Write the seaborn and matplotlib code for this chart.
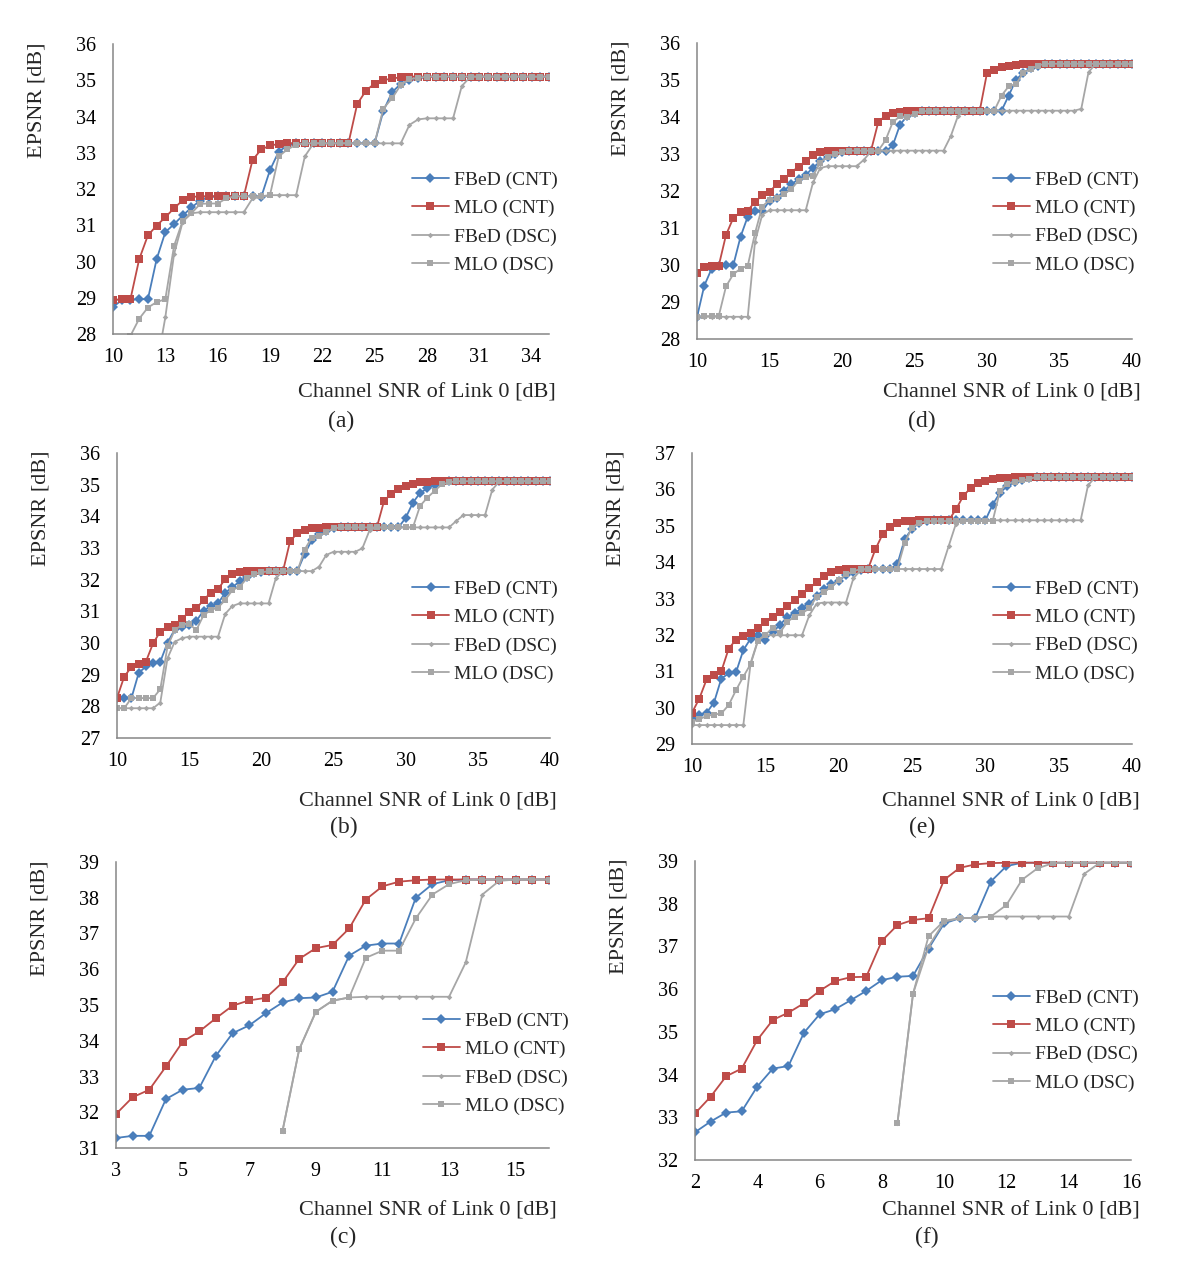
import numpy as np
import matplotlib
matplotlib.use("Agg")
import matplotlib.pyplot as plt
import seaborn as sns

sns.set_style("white")
plt.rcParams['font.family'] = ['Liberation Serif', 'DejaVu Serif']

W, H = 1200, 1281

# ---- data (EPSNR [dB] vs channel SNR of link 0 [dB]) ----
series_names = ["FBeD (CNT)", "MLO (CNT)", "FBeD (DSC)", "MLO (DSC)"]

# (a)
a_x = np.arange(10, 35.01, 0.5)
a_fbed_cnt = [28.75, 28.93, 28.95, 28.96, 28.96, 30.06, 30.81, 31.03, 31.27, 31.49, 31.68, 31.78,
              31.8, 31.8, 31.8, 31.8, 31.8, 31.78, 32.52, 33.03, 33.2, 33.26] + [33.26] * 9 + \
             [34.15, 34.67, 34.9, 35.0, 35.05] + [35.1] * 15
a_mlo_cnt = [28.94, 28.96, 28.96, 30.06, 30.72, 30.99, 31.22, 31.47, 31.69, 31.78, 31.8, 31.8,
             31.8, 31.8, 31.8, 31.8, 32.8, 33.09, 33.2, 33.24, 33.26] + [33.26] * 7 + \
            [34.34, 34.71, 34.91, 35.0, 35.05, 35.08] + [35.1] * 17
a_fbed_dsc = [26.9, 26.95, 27.0, 27.0, 27.05, 27.1, 28.46, 30.2, 31.1, 31.33, 31.36] + [31.36] * 5 + \
             [31.74, 31.78, 31.83, 31.83, 31.83, 31.83, 32.9, 33.26] + [33.26] * 10 + \
             [33.77, 33.92, 33.95, 33.95, 33.95, 33.95, 34.84, 35.1] + [35.1] * 9
a_mlo_dsc = [27.0, 27.4, 27.95, 28.42, 28.73, 28.88, 28.96, 30.43, 31.13, 31.33, 31.59, 31.6, 31.6,
             31.74, 31.8, 31.8, 31.8, 31.8, 31.83, 32.9, 33.09, 33.22, 33.26] + [33.26] * 8 + \
            [34.22, 34.5, 34.87, 35.03, 35.07] + [35.1] * 15

# (d)
d_x = np.arange(10, 40.01, 0.5)
d_fbed_cnt = [28.59, 29.44, 29.89, 29.96, 29.99, 29.99, 30.76, 31.31, 31.45, 31.45, 31.74, 31.8,
              32.01, 32.18, 32.32, 32.43, 32.63, 32.8, 32.92, 33.01, 33.06] + [33.09] * 5 + \
             [33.07, 33.23, 33.79, 34.03, 34.12] + [34.17] * 12 + \
             [34.58, 35.01, 35.19, 35.32, 35.39] + [35.44] * 13
d_mlo_cnt = [29.78, 29.94, 29.96, 29.98, 30.81, 31.27, 31.43, 31.47, 31.71, 31.88, 31.98, 32.18,
             32.32, 32.5, 32.66, 32.81, 32.98, 33.06, 33.08] + [33.09] * 6 + \
            [33.86, 34.04, 34.11, 34.14, 34.16] + [34.17] * 10 + \
            [35.19, 35.28, 35.35, 35.39, 35.4, 35.42] + [35.44] * 15
d_fbed_dsc = [28.6] * 8 + [30.63, 31.36, 31.48] + [31.48] * 5 + [32.23, 32.62, 32.67] + [32.67] * 4 + \
             [32.84, 33.07] + [33.09] * 10 + [33.48, 34.03] + [34.17] * 16 + [34.22, 35.21] + [35.44] * 6
d_mlo_dsc = [28.59, 28.62, 28.62, 28.62, 29.42, 29.75, 29.9, 29.98, 30.86, 31.58, 31.76, 31.8,
             31.92, 32.05, 32.28, 32.37, 32.41, 32.77, 32.92, 33.01, 33.05] + [33.09] * 5 + \
            [33.37, 33.86, 34.02, 34.0, 34.09, 34.15] + [34.17] * 10 + \
            [34.58, 34.83, 34.89, 35.19, 35.3, 35.39] + [35.44] * 13

# (b)
b_x = np.arange(10, 40.01, 0.5)
b_fbed_cnt = [28.26, 28.26, 28.26, 29.05, 29.26, 29.38, 29.41, 30.01, 30.43, 30.52, 30.57, 30.7,
              31.02, 31.17, 31.25, 31.59, 31.76, 31.95, 32.09, 32.2, 32.25] + [32.27] * 5 + \
             [32.81, 33.25, 33.44, 33.54, 33.62] + [33.65] * 9 + \
             [33.95, 34.43, 34.74, 34.88, 34.98, 35.09] + [35.11] * 15
b_mlo_cnt = [28.26, 28.94, 29.24, 29.34, 29.41, 29.99, 30.36, 30.52, 30.57, 30.76, 30.99, 31.09,
             31.36, 31.59, 31.7, 32.02, 32.17, 32.23, 32.26] + [32.27] * 5 + \
            [33.23, 33.46, 33.58, 33.62, 33.64] + [33.65] * 8 + \
            [34.48, 34.72, 34.87, 34.97, 35.03, 35.07, 35.09] + [35.11] * 17
b_fbed_dsc = [27.94] * 6 + [28.12, 29.52, 30.04, 30.15, 30.2] + [30.2] * 4 + [30.92, 31.17, 31.25] + \
             [31.25] * 4 + [32.04, 32.27] + [32.27] * 4 + [32.41, 32.78, 32.88] + [32.88] * 3 + \
             [32.99, 33.56, 33.65] + [33.65] * 10 + [33.85, 34.04] + [34.04] * 3 + [34.84, 35.11] + [35.11] * 7
b_mlo_dsc = [27.94, 27.94, 28.26, 28.26, 28.26, 28.26, 28.54, 29.89, 30.41, 30.57, 30.6, 30.41,
             30.88, 31.04, 31.12, 31.36, 31.67, 31.78, 32.04, 32.18, 32.23] + [32.27] * 5 + \
            [32.95, 33.33, 33.37, 33.51, 33.62] + [33.65] * 11 + \
            [34.33, 34.59, 34.8, 35.01, 35.07] + [35.11] * 14

# (e)
e_x = np.arange(10, 40.01, 0.5)
e_fbed_cnt = [29.7, 29.8, 29.86, 30.14, 30.8, 30.94, 30.97, 31.58, 31.9, 31.99, 31.87, 32.08,
              32.27, 32.5, 32.59, 32.75, 32.86, 33.06, 33.25, 33.39, 33.49, 33.64, 33.73, 33.78] + \
             [33.81] * 4 + [33.94, 34.63, 34.92, 35.08, 35.12] + [35.15] * 8 + \
             [35.58, 35.91, 36.09, 36.2, 36.27, 36.3] + [36.34] * 14
e_mlo_cnt = [29.86, 30.25, 30.78, 30.91, 31.0, 31.62, 31.87, 31.97, 32.04, 32.2, 32.35, 32.5,
             32.62, 32.8, 32.95, 33.11, 33.29, 33.44, 33.61, 33.73, 33.78, 33.8] + [33.81] * 3 + \
            [34.35, 34.77, 34.97, 35.08, 35.12, 35.13] + [35.15] * 5 + \
            [35.45, 35.82, 36.04, 36.18, 36.23, 36.28, 36.3, 36.32] + [36.34] * 17
e_fbed_dsc = [29.52] * 8 + [31.23, 31.86, 31.99] + [31.99] * 5 + [32.54, 32.86, 32.89] + [32.89] * 3 + \
             [33.55, 33.78] + [33.81] * 11 + [34.44, 35.06] + [35.15] * 17 + [36.11] + [36.34] * 6
e_mlo_dsc = [29.61, 29.68, 29.77, 29.81, 29.84, 30.07, 30.48, 30.85, 31.2, 31.84, 31.99, 32.2,
             32.06, 32.36, 32.5, 32.59, 32.73, 33.05, 33.18, 33.32, 33.5, 33.66, 33.75] + [33.81] * 6 + \
            [34.53, 34.95, 35.08] + [35.13] * 10 + [35.96, 36.16, 36.2, 36.25, 36.29] + [36.34] * 14

# (c)
c_x = np.arange(3, 16.01, 0.5)
c_x_dsc = np.arange(8, 16.01, 0.5)
c_fbed_cnt = [31.28, 31.34, 31.34, 32.37, 32.63, 32.68, 33.58, 34.21, 34.43, 34.77, 35.07, 35.19,
              35.21, 35.37, 36.38, 36.66, 36.72, 36.72, 38.0, 38.38, 38.49] + [38.51] * 6
c_mlo_cnt = [31.95, 32.42, 32.63, 33.28, 33.97, 34.26, 34.63, 34.98, 35.13, 35.2, 35.63, 36.29,
             36.59, 36.68, 37.14, 37.95, 38.32, 38.45, 38.49] + [38.51] * 8
c_fbed_dsc = [31.48, 33.76, 34.81, 35.12, 35.21] + [35.23] * 6 + [36.19, 38.09, 38.47] + [38.51] * 3
c_mlo_dsc = [31.48, 33.76, 34.81, 35.12, 35.21, 36.32, 36.52, 36.52, 37.42, 38.09, 38.38, 38.49] + [38.51] * 5

# (f)
f_x = np.arange(2, 16.01, 0.5)
f_x_dsc = np.arange(8.5, 16.01, 0.5)
f_fbed_cnt = [32.65, 32.9, 33.11, 33.14, 33.72, 34.14, 34.2, 34.98, 35.41, 35.53, 35.74, 35.96,
              36.21, 36.29, 36.31, 36.95, 37.54, 37.66, 37.67, 38.52, 38.88] + [38.96] * 8
f_mlo_cnt = [33.09, 33.48, 33.96, 34.14, 34.81, 35.28, 35.45, 35.67, 35.96, 36.19, 36.28, 36.29,
             37.13, 37.5, 37.62, 37.66, 38.56, 38.84, 38.92, 38.95] + [38.96] * 9
f_fbed_dsc = [32.86, 35.89, 37.0, 37.58, 37.66, 37.67] + [37.7] * 6 + [38.7] + [38.96] * 3
f_mlo_dsc = [32.86, 35.89, 37.24, 37.6, 37.66, 37.67, 37.7, 37.97, 38.56, 38.83, 38.95] + [38.96] * 5

# ---- styles ----
styles = [
    dict(color="#4A7EBB", marker="D", markersize=4.8, linewidth=1.3),
    dict(color="#BE4B48", marker="s", markersize=6.0, linewidth=1.3),
    dict(color="#A6A6A6", marker="D", markersize=2.8, linewidth=1.3),
    dict(color="#A6A6A6", marker="s", markersize=4.6, linewidth=1.3),
]

panels = [
    dict(tag="(a)", xs=[a_x, a_x, a_x, a_x], ys=[a_fbed_cnt, a_mlo_cnt, a_fbed_dsc, a_mlo_dsc],
         xlim=(10, 35), xticks=np.arange(10, 35, 3), ylim=(28, 36),
         box=(113, 549, 44, 334), leg=(0.663, 0.384), lab=(341, 421), xl=(556, 393)),
    dict(tag="(d)", xs=[d_x, d_x, d_x, d_x], ys=[d_fbed_cnt, d_mlo_cnt, d_fbed_dsc, d_mlo_dsc],
         xlim=(10, 40), xticks=np.arange(10, 41, 5), ylim=(28, 36),
         box=(697, 1132, 43, 339), leg=(0.658, 0.394), lab=(922, 421), xl=(1141, 393)),
    dict(tag="(b)", xs=[b_x, b_x, b_x, b_x], ys=[b_fbed_cnt, b_mlo_cnt, b_fbed_dsc, b_mlo_dsc],
         xlim=(10, 40), xticks=np.arange(10, 41, 5), ylim=(27, 36),
         box=(117, 550, 453, 738), leg=(0.659, 0.373), lab=(344, 827), xl=(557, 802)),
    dict(tag="(e)", xs=[e_x, e_x, e_x, e_x], ys=[e_fbed_cnt, e_mlo_cnt, e_fbed_dsc, e_mlo_dsc],
         xlim=(10, 40), xticks=np.arange(10, 41, 5), ylim=(29, 37),
         box=(692, 1132, 453, 744), leg=(0.662, 0.387), lab=(922, 827), xl=(1140, 802)),
    dict(tag="(c)", xs=[c_x, c_x, c_x_dsc, c_x_dsc], ys=[c_fbed_cnt, c_mlo_cnt, c_fbed_dsc, c_mlo_dsc],
         xlim=(3, 16), xticks=np.arange(3, 16, 2), ylim=(31, 39),
         box=(116, 549, 862, 1148), leg=(0.686, 0.295), lab=(343, 1237), xl=(557, 1211)),
    dict(tag="(f)", xs=[f_x, f_x, f_x_dsc, f_x_dsc], ys=[f_fbed_cnt, f_mlo_cnt, f_fbed_dsc, f_mlo_dsc],
         xlim=(2, 16), xticks=np.arange(2, 17, 2), ylim=(32, 39),
         box=(695, 1131, 861, 1160), leg=(0.661, 0.40), lab=(927, 1237), xl=(1140, 1211)),
]

fig = plt.figure(figsize=(W / 100, H / 100), dpi=100)
axis_grey = "#868686"

for p in panels:
    l, r, t, b = p["box"]
    ax = fig.add_axes([l / W, 1 - b / H, (r - l) / W, (b - t) / H])
    for name, x, y, st in zip(series_names, p["xs"], p["ys"], styles):
        sns.lineplot(x=x, y=y, ax=ax, label=name, errorbar=None,
                     markeredgewidth=0, **st)
    ax.set_xlim(*p["xlim"])
    ax.set_ylim(*p["ylim"])
    ax.set_xticks(p["xticks"])
    ax.set_yticks(np.arange(p["ylim"][0], p["ylim"][1] + 1, 1))
    for s in ["top", "right"]:
        ax.spines[s].set_visible(False)
    for s in ["left", "bottom"]:
        ax.spines[s].set_color(axis_grey)
        ax.spines[s].set_linewidth(1.1)
    ax.tick_params(direction="out", length=4, width=1.1, color=axis_grey,
                   labelsize=14.5, labelcolor="black")
    ax.tick_params(axis="y", pad=8)
    ax.tick_params(axis="x", pad=6)
    ax.legend(loc="center left", bbox_to_anchor=p["leg"], frameon=False, fontsize=14,
              borderpad=0, handlelength=1.9, handletextpad=0.25, labelspacing=0.55)

    # axis titles and panel tag
    fig.text(p["xl"][0] / W, 1 - p["xl"][1] / H, "Channel SNR of Link 0 [dB]",
             ha="right", va="center", fontsize=16)
    fig.text((l - 76) / W, 1 - (t - 2) / H, "EPSNR [dB]", rotation=90,
             ha="center", va="top", fontsize=16)
    fig.text(p["lab"][0] / W, 1 - p["lab"][1] / H, p["tag"], ha="center", va="center", fontsize=17)

fig.savefig("out.png", dpi=100)
